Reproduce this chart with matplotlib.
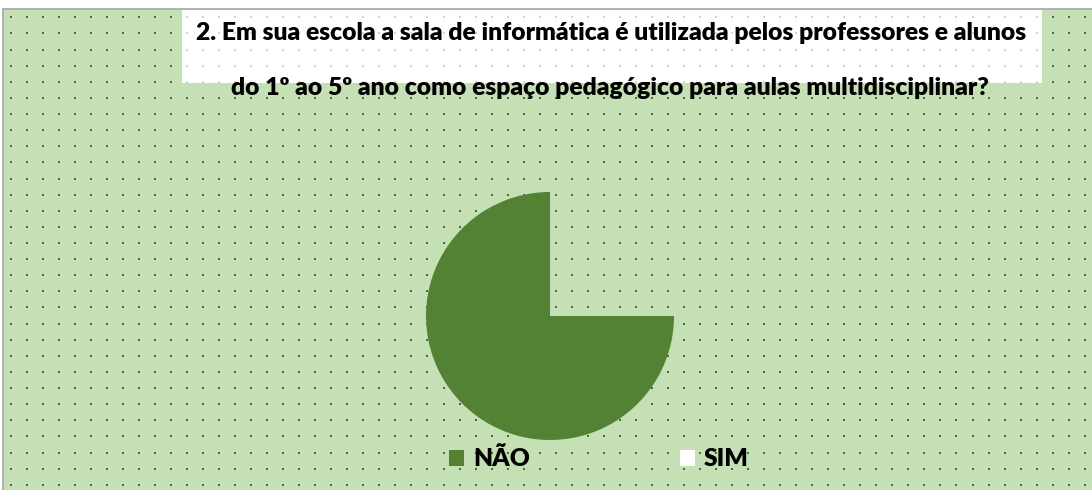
import matplotlib
matplotlib.use("Agg")
import matplotlib.pyplot as plt
import matplotlib.patches as mpatches
import numpy as np

# ---- data ----
categories = ["NÃO", "SIM"]
values = [75, 25]
title_lines = [
    "2. Em sua escola a sala de informática é utilizada pelos professores e alunos",
    "do 1º ao 5º ano como espaço pedagógico para aulas multidisciplinar?",
]

W, H = 1092, 490
DPI = 100
BG = "#c5e0b4"
GREEN = "#548235"
DOT = "#4a6a3c"
DOT_LIGHT = "#c5e0b4"
FONT = ["Lato", "DejaVu Sans"]
WEIGHT = "heavy"

fig = plt.figure(figsize=(W / DPI, H / DPI), dpi=DPI)
fig.patch.set_facecolor("white")

ax = fig.add_axes([0, 0, 1, 1])
ax.set_xlim(0, W)
ax.set_ylim(H, 0)
ax.axis("off")

ax.add_patch(mpatches.Rectangle((2.5, 9.5), W, H, facecolor=BG,
                                edgecolor="#a6a6a6", linewidth=1.2, zorder=0))

bx0, bx1, by0, by1 = 182, 1042, 10, 83
ax.add_patch(mpatches.Rectangle((bx0, by0), bx1 - bx0, by1 - by0,
                                facecolor="white", edgecolor="none", zorder=2))

xs = np.arange(10.7, W, 16.03)
ys = np.arange(17.3, H, 16.12)
gx, gy = np.meshgrid(xs, ys)
gx = gx.ravel(); gy = gy.ravel()
inbox = (gx > bx0) & (gx < bx1) & (gy > by0) & (gy < by1)
ax.scatter(gx[~inbox], gy[~inbox], s=4, c=DOT, marker="s", linewidths=0, zorder=1)
ax.scatter(gx[inbox], gy[inbox], s=4, c=DOT_LIGHT, marker="s", linewidths=0, zorder=3)

fig.canvas.draw()
renderer = fig.canvas.get_renderer()
target_w = 830.0
fs = 17.0
t1 = ax.text(611.5, 33, title_lines[0], ha="center", va="center", fontsize=fs,
             fontweight=WEIGHT, family=FONT, color="black", zorder=5)
w = t1.get_window_extent(renderer).width
fs = fs * target_w / w
t1.set_fontsize(fs)
t2 = ax.text(610, 88, title_lines[1], ha="center", va="center", fontsize=fs,
             fontweight=WEIGHT, family=FONT, color="black", zorder=5)

cx, cy, r = 550, 316, 124
pax = fig.add_axes([(cx - r) / W, (H - cy - r) / H, 2 * r / W, 2 * r / H])
pax.set_zorder(5)
pax.patch.set_alpha(0)
wedges, _ = pax.pie(values, colors=[GREEN, "white"], startangle=90,
                    counterclock=True, wedgeprops=dict(linewidth=0))
wedges[1].set_alpha(0)
pax.set_xlim(-1, 1)
pax.set_ylim(-1, 1)
pax.set_aspect("auto")
pax.axis("off")

handles = [mpatches.Patch(facecolor=GREEN, edgecolor="none"),
           mpatches.Patch(facecolor="white", edgecolor="none")]
leg = fig.legend(handles, categories, loc="center left",
                 bbox_to_anchor=(449 / W, 1 - 459 / H), ncol=2, frameon=False,
                 prop=dict(family=FONT, weight=WEIGHT, size=fs),
                 handlelength=0.62, handleheight=0.62, handletextpad=0.35,
                 columnspacing=6.1, borderpad=0, borderaxespad=0)
leg.set_zorder(6)

fig.savefig("out.png", dpi=DPI, facecolor=fig.get_facecolor())
